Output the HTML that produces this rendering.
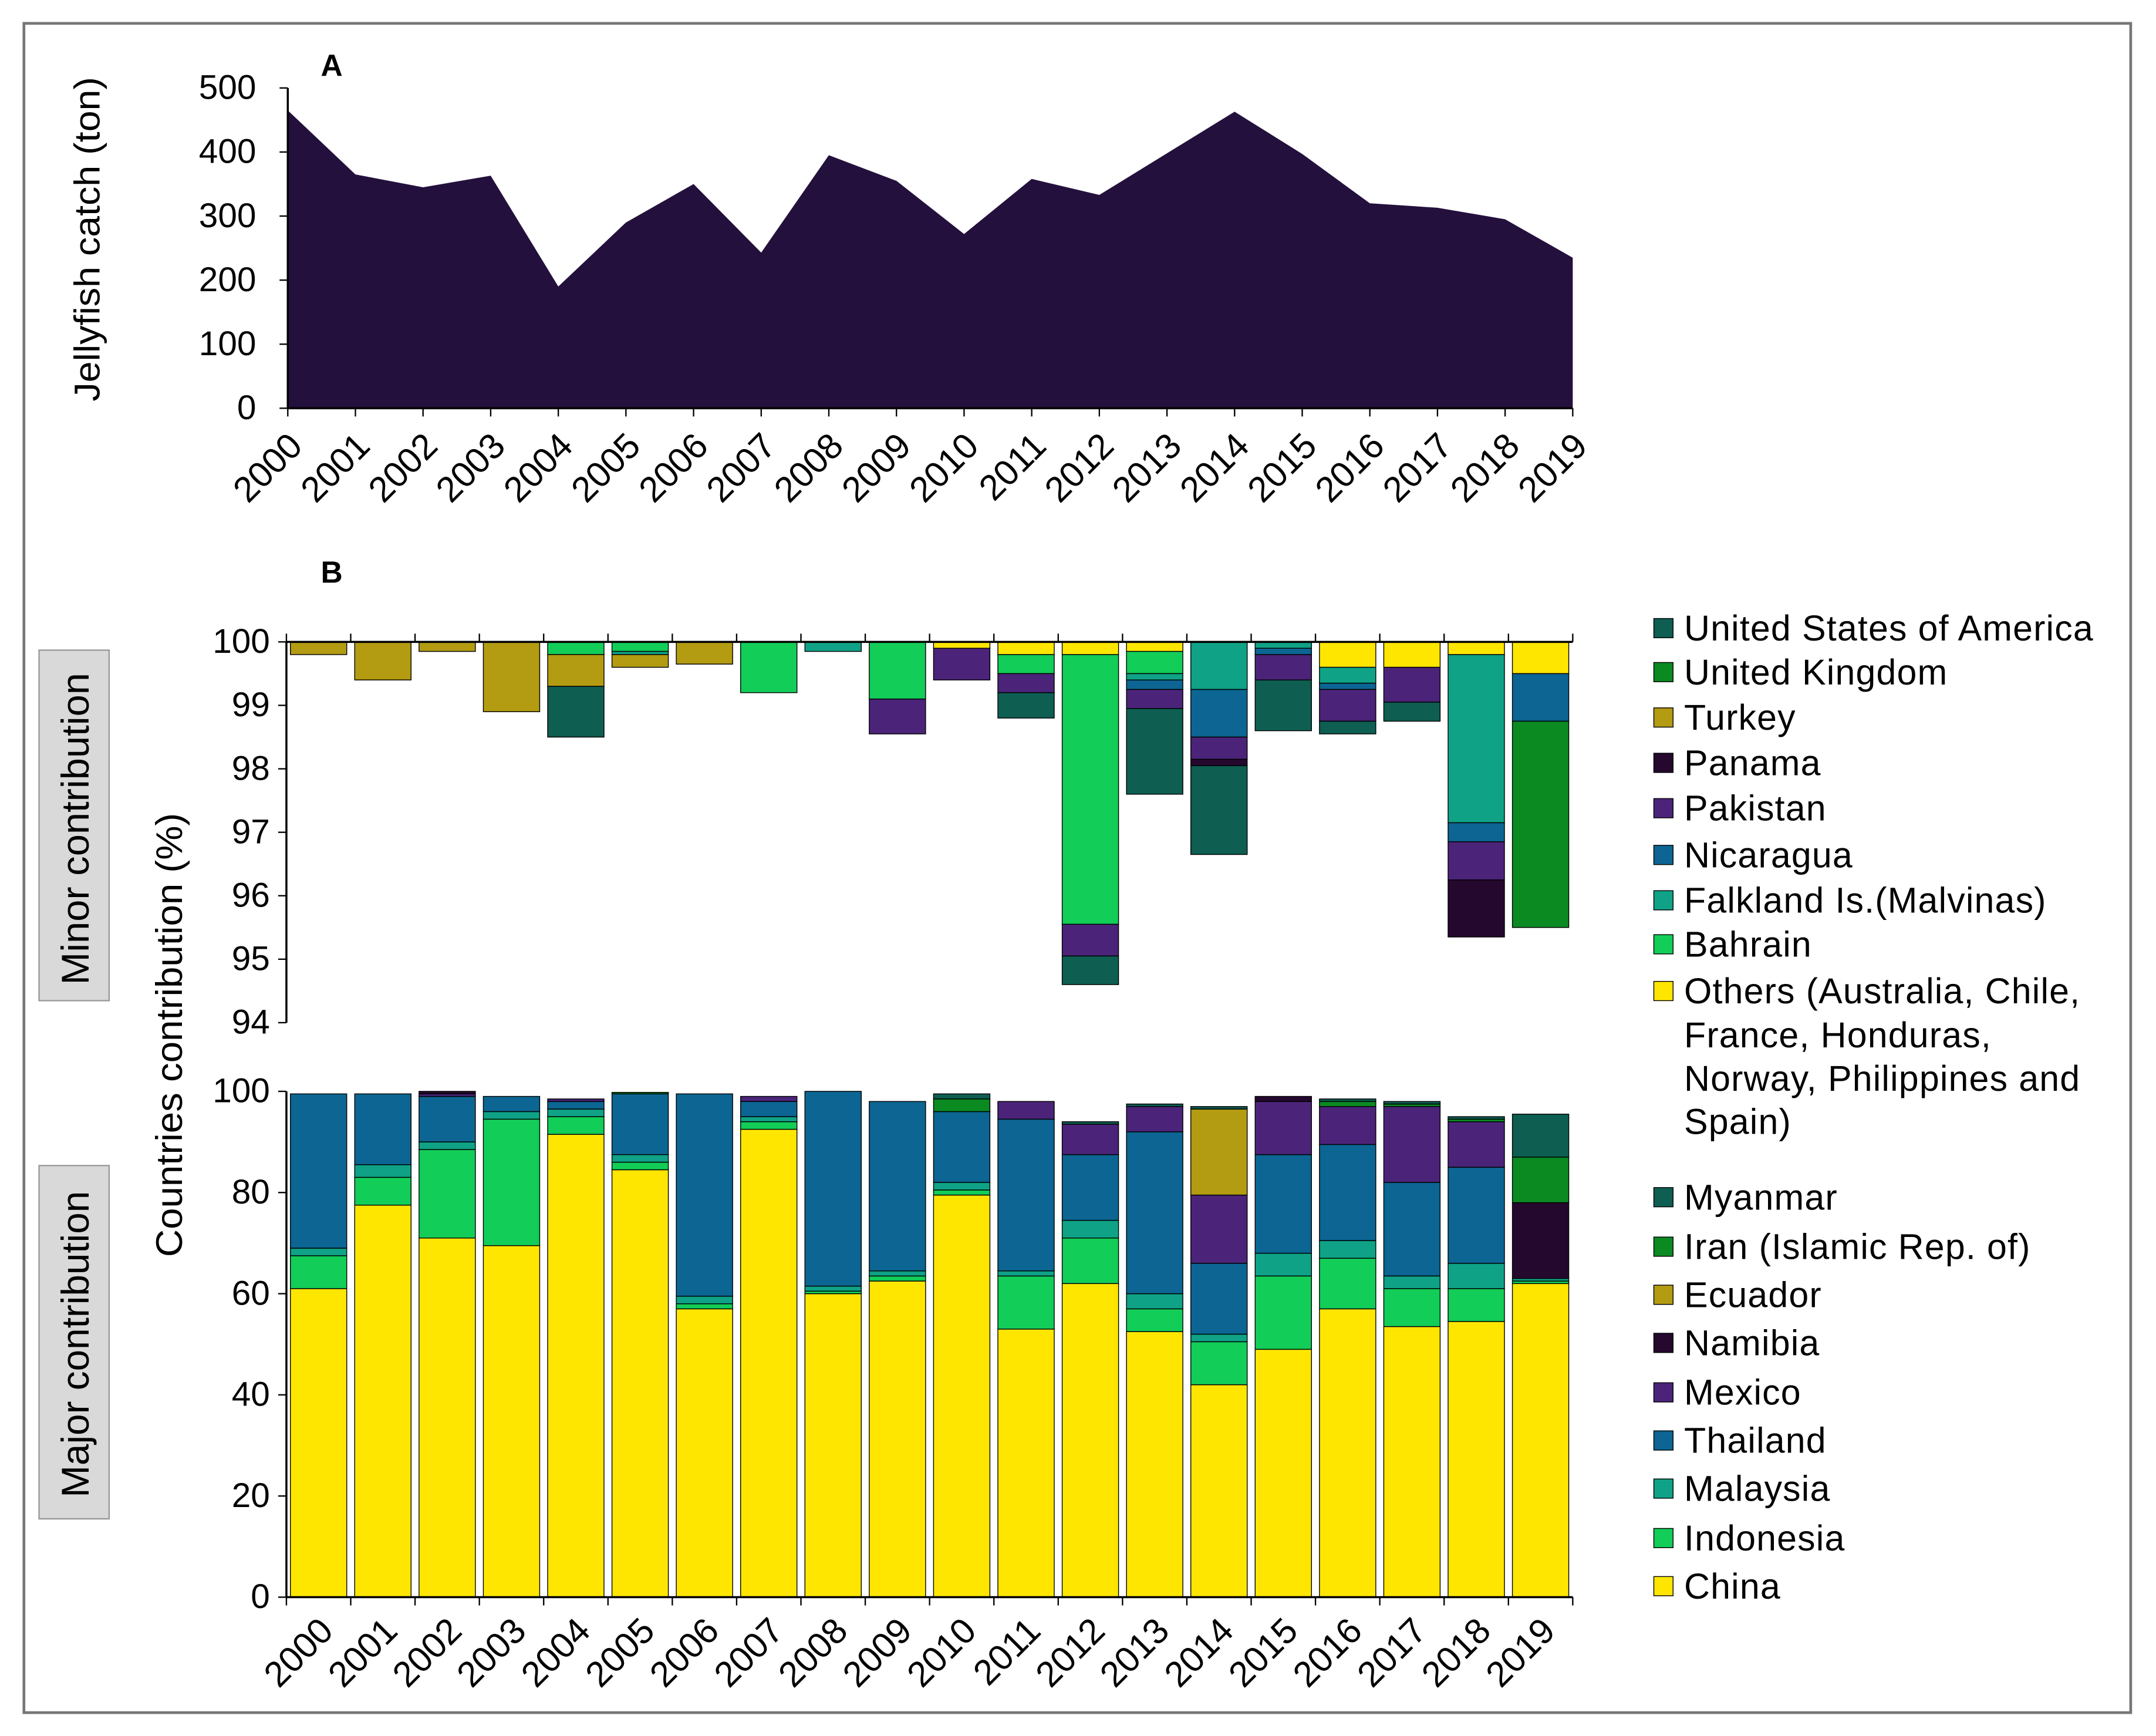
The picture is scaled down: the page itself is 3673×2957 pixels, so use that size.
<!DOCTYPE html>
<html><head><meta charset="utf-8"><style>
html,body{margin:0;padding:0;background:#fff;}
svg{display:block;font-family:"Liberation Sans",Arial,sans-serif;}
</style></head><body>
<svg id="s" width="3673" height="2957" viewBox="0 0 1568 1263" xmlns="http://www.w3.org/2000/svg">
<rect x="17" y="17" width="1533" height="1229" fill="#fff" stroke="#777" stroke-width="2"/>
<text x="233" y="55" font-size="22" font-weight="bold">A</text>
<text x="233" y="424" font-size="22" font-weight="bold">B</text>
<text transform="translate(72,174) rotate(-90)" text-anchor="middle" font-size="26" textLength="236" lengthAdjust="spacingAndGlyphs">Jellyfish catch (ton)</text>
<text transform="translate(132,753) rotate(-90)" text-anchor="middle" font-size="27" textLength="323" lengthAdjust="spacingAndGlyphs">Countries contribution (%)</text>
<g><rect x="28" y="473" width="51" height="255" fill="#d9d9d9" stroke="#999"/><text transform="translate(64,603) rotate(-90)" text-anchor="middle" font-size="28" textLength="227" lengthAdjust="spacingAndGlyphs">Minor contribution</text></g>
<g><rect x="28" y="848" width="51" height="257" fill="#d9d9d9" stroke="#999"/><text transform="translate(64,978) rotate(-90)" text-anchor="middle" font-size="28" textLength="223" lengthAdjust="spacingAndGlyphs">Major contribution</text></g>
<g id="ga"></g><g id="gmin"></g><g id="gmaj"></g><g id="gleg"></g>
</svg>
<script>
const years=[2000,2001,2002,2003,2004,2005,2006,2007,2008,2009,2010,2011,2012,2013,2014,2015,2016,2017,2018,2019];
const catchTon=[465,365,345,363,190,290,350,243,395,355,272,358,333,398,463,397,320,313,295,235];
const yTicksA=[0,100,200,300,400,500];
const minorNames=["Others","Bahrain","Falkland","Nicaragua","Pakistan","Panama","Turkey","UK","USA"];
const mOthers  =[0,0,0,0,0,0,0,0,0,0,0.1,0.2,0.2,0.15,0,0,0.4,0.4,0.2,0.5];
const mBahrain =[0,0,0,0,0.2,0.15,0,0.8,0,0.9,0,0.3,4.25,0.35,0,0,0,0,0,0];
const mFalkland=[0,0,0,0,0,0.05,0,0,0.15,0,0,0,0,0.1,0.75,0.1,0.25,0,2.65,0];
const mNicaragua=[0,0,0,0,0,0,0,0,0,0,0,0,0,0.15,0.75,0.1,0.1,0,0.3,0.75];
const mPakistan=[0,0,0,0,0,0,0,0,0,0.55,0.5,0.3,0.5,0.3,0.35,0.4,0.5,0.55,0.6,0];
const mPanama  =[0,0,0,0,0,0,0,0,0,0,0,0,0,0,0.1,0,0,0,0.9,0];
const mTurkey  =[0.2,0.6,0.15,1.1,0.5,0.2,0.35,0,0,0,0,0,0,0,0,0,0,0,0,0];
const mUK      =[0,0,0,0,0,0,0,0,0,0,0,0,0,0,0,0,0,0,0,3.25];
const mUSA     =[0,0,0,0,0.8,0,0,0,0,0,0,0.4,0.45,1.35,1.4,0.8,0.2,0.3,0,0];
const minorTicks=[94,95,96,97,98,99,100];
const jChina   =[61,77.5,71,69.5,91.5,84.5,57,92.5,60,62.5,79.5,53,62,52.5,42,49,57,53.5,54.5,62];
const jIndo    =[6.5,5.5,17.5,25,3.5,1.5,1,1.5,0.5,1,1,10.5,9,4.5,8.5,14.5,10,7.5,6.5,0.5];
const jMalay   =[1.5,2.5,1.5,1.5,1.5,1.5,1.5,1,1,1,1.5,1,3.5,3,1.5,4.5,3.5,2.5,5,0.5];
const jThai    =[30.5,14,9,3,1.5,12,40,3,38.5,33.5,14,30,13,32,14,19.5,19,18.5,19,0];
const jMexico  =[0,0,0.5,0,0.5,0,0,1,0,0,0,3.5,6,5,13.5,10.5,7.5,15,9,0];
const jNamibia =[0,0,0.5,0,0,0,0,0,0,0,0,0,0,0,0,1,0,0,0,15];
const jEcuador =[0,0,0,0,0,0,0,0,0,0,0,0,0,0,17,0,0,0,0,0];
const jIran    =[0,0,0,0,0,0.3,0,0,0,0,2.5,0,0,0,0,0,1,0.5,0.5,9];
const jMyanmar =[0,0,0,0,0,0,0,0,0,0,1,0,0.5,0.5,0.5,0,0.5,0.5,0.5,8.5];
const majorTicks=[0,20,40,60,80,100];
const C={USA:"#0e5e52",UK:"#0b8a22",Turkey:"#b39b12",Panama:"#25082e",Pakistan:"#4b2479",Nicaragua:"#0c6592",Falkland:"#0fa286",Bahrain:"#12cd58",Others:"#ffe600"};
const NS="http://www.w3.org/2000/svg";
function el(p,t,a){const e=document.createElementNS(NS,t);for(const k in a)e.setAttribute(k,a[k]);p.appendChild(e);return e;}
// Panel A
const ga=document.getElementById('ga');
const ax=i=>209+i*(935/19), ay=v=>297-v*0.466;
let d="M"+ax(0)+","+ay(0);
catchTon.forEach((v,i)=>d+=" L"+ax(i)+","+ay(v));
d+=" L"+ax(19)+","+ay(0)+"Z";
const area=el(ga,'path',{d:d,fill:"#23103c"});


el(ga,'line',{x1:209,y1:64,x2:209,y2:297,stroke:"#000","stroke-width":1.5});
el(ga,'line',{x1:209,y1:297,x2:1144,y2:297,stroke:"#000","stroke-width":1.5});
yTicksA.forEach(v=>{el(ga,'line',{x1:203,y1:ay(v),x2:209,y2:ay(v),stroke:"#000"});
 const t=el(ga,'text',{x:186,y:ay(v)+8,"text-anchor":"end","font-size":25});t.textContent=v;
 });
years.forEach((y,i)=>{el(ga,'line',{x1:ax(i),y1:297,x2:ax(i),y2:303,stroke:"#000"});
 const t=el(ga,'text',{transform:`translate(${ax(i)+12},${326}) rotate(-45)`,"text-anchor":"end","font-size":26});t.textContent=y;
 });
// Bars
const bx=i=>208+(i+0.5)*(936/20), bw=41;
const gmin=document.getElementById('gmin');
const my=v=>467+(100-v)*46.17;
const minorSeries=[mOthers,mBahrain,mFalkland,mNicaragua,mPakistan,mPanama,mTurkey,mUK,mUSA];
years.forEach((y,i)=>{let top=100;
 minorSeries.forEach((s,k)=>{const v=s[i];if(v<=0)return;
  const r=el(gmin,'rect',{x:bx(i)-bw/2,y:my(top),width:bw,height:my(top-v)-my(top),fill:C[minorNames[k]],stroke:"#000","stroke-width":0.6});
  
  
  top-=v;});});
el(gmin,'line',{x1:208,y1:my(100),x2:208,y2:my(94),stroke:"#000","stroke-width":1.5});
el(gmin,'line',{x1:208,y1:my(100),x2:1144,y2:my(100),stroke:"#000","stroke-width":1.5});
minorTicks.forEach(v=>{el(gmin,'line',{x1:202,y1:my(v),x2:208,y2:my(v),stroke:"#000"});
 const t=el(gmin,'text',{x:196,y:my(v)+8,"text-anchor":"end","font-size":25});t.textContent=v;
 });
for(let i=0;i<=20;i++)el(gmin,'line',{x1:208+i*46.8,y1:my(100),x2:208+i*46.8,y2:my(100)-6,stroke:"#000"});
const gmaj=document.getElementById('gmaj');
const jy=v=>1162-v*3.68;
const majorNames=["China","Indonesia","Malaysia","Thailand","Mexico","Namibia","Ecuador","Iran","Myanmar"];
const majorCol=[C.Others,C.Bahrain,C.Falkland,C.Nicaragua,C.Pakistan,C.Panama,C.Turkey,C.UK,C.USA];
const majorSeries=[jChina,jIndo,jMalay,jThai,jMexico,jNamibia,jEcuador,jIran,jMyanmar];
years.forEach((y,i)=>{let b=0;
 majorSeries.forEach((s,k)=>{const v=s[i];if(v<=0)return;
  const r=el(gmaj,'rect',{x:bx(i)-bw/2,y:jy(b+v),width:bw,height:jy(b)-jy(b+v),fill:majorCol[k],stroke:"#000","stroke-width":0.6});
  
  
  b+=v;});});
el(gmaj,'line',{x1:208,y1:jy(0),x2:208,y2:jy(100),stroke:"#000","stroke-width":1.5});
el(gmaj,'line',{x1:208,y1:jy(0),x2:1144,y2:jy(0),stroke:"#000","stroke-width":1.5});
majorTicks.forEach(v=>{el(gmaj,'line',{x1:202,y1:jy(v),x2:208,y2:jy(v),stroke:"#000"});
 const t=el(gmaj,'text',{x:196,y:jy(v)+8,"text-anchor":"end","font-size":25});t.textContent=v;
 });
for(let i=0;i<=20;i++)el(gmaj,'line',{x1:208+i*46.8,y1:jy(0),x2:208+i*46.8,y2:jy(0)+6,stroke:"#000"});
years.forEach((y,i)=>{const t=el(gmaj,'text',{transform:`translate(${bx(i)+12},${1188}) rotate(-45)`,"text-anchor":"end","font-size":26});t.textContent=y;
 });
// Legend
const gl=document.getElementById('gleg');
const leg=[["United States of America",C.USA,457],["United Kingdom",C.UK,489],["Turkey",C.Turkey,522],["Panama",C.Panama,555],["Pakistan",C.Pakistan,588],["Nicaragua",C.Nicaragua,622],["Falkland Is.(Malvinas)",C.Falkland,655],["Bahrain",C.Bahrain,687],["Others (Australia, Chile,",C.Others,721],
["Myanmar",C.USA,871],["Iran (Islamic Rep. of)",C.UK,907],["Ecuador",C.Turkey,942],["Namibia",C.Panama,977],["Mexico",C.Pakistan,1013],["Thailand",C.Nicaragua,1048],["Malaysia",C.Falkland,1083],["Indonesia",C.Bahrain,1119],["China",C.Others,1154]];
leg.forEach(l=>{const g=el(gl,'g',{});
 
 
 el(g,'rect',{x:1203,y:l[2]-7,width:14,height:14,fill:l[1],stroke:"#000","stroke-width":0.6});
 const t=el(g,'text',{x:1225,y:l[2]+9,"font-size":26,"letter-spacing":0.5});t.textContent=l[0];});
["France, Honduras,","Norway, Philippines and","Spain)"].forEach((s,i)=>{const t=el(gl,'text',{x:1225,y:762+i*31.5,"font-size":26,"letter-spacing":0.5});t.textContent=s;
 });
</script>
</body></html>
